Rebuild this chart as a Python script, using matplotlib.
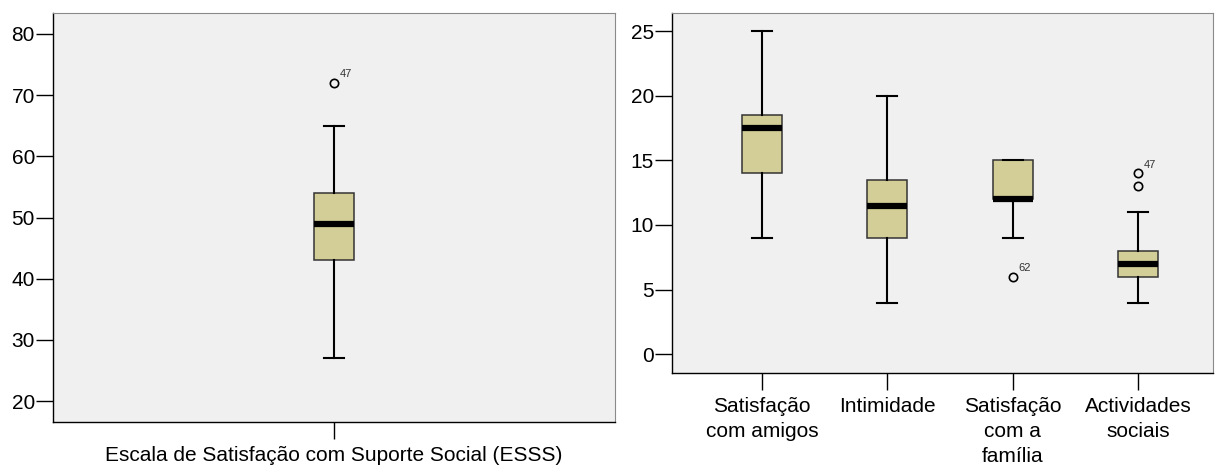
import matplotlib.pyplot as plt

plt.rcParams['font.family'] = ['Liberation Sans', 'DejaVu Sans']

# total score (ESSS)
esss_label = 'Escala de Satisfação com Suporte Social (ESSS)'
esss_whislo, esss_q1, esss_med, esss_q3, esss_whishi = 27, 43, 49, 54, 65
esss_fliers = [72]
esss_flier_ids = ['47']

# subscales
sub_labels = ['Satisfação\ncom amigos', 'Intimidade', 'Satisfação\ncom a\nfamília', 'Actividades\nsociais']
sub_whislo = [9, 4, 9, 4]
sub_q1 = [14, 9, 12, 6]
sub_med = [17.5, 11.5, 12, 7]
sub_q3 = [18.5, 13.5, 15, 8]
sub_whishi = [25, 20, 15, 11]
sub_fliers = [[], [], [6], [13, 14]]
sub_flier_ids = [[], [], ['62'], ['', '47']]

BG = '#f0f0f0'
BOX = '#d3ce98'

boxprops = dict(facecolor=BOX, edgecolor='#333333', linewidth=1.1)
medianprops = dict(color='black', linewidth=4.5, solid_capstyle='butt')
whiskerprops = dict(color='black', linewidth=1.5)
capprops = dict(color='black', linewidth=1.5)
flierprops = dict(marker='o', markerfacecolor='none', markeredgecolor='black',
                  markersize=6, markeredgewidth=1.2, linestyle='none')


def style_axes(ax):
    ax.set_facecolor(BG)
    for s in ('top', 'right'):
        ax.spines[s].set_color('#8a8a8a')
        ax.spines[s].set_linewidth(0.8)
    for s in ('left', 'bottom'):
        ax.spines[s].set_color('black')
        ax.spines[s].set_linewidth(1.0)
    ax.tick_params(axis='both', direction='out', length=12, width=1.0,
                   labelsize=15, colors='black', top=False, right=False)
    ax.tick_params(axis='y', pad=1)
    ax.tick_params(axis='x', pad=5)


fig = plt.figure(figsize=(12.19, 4.71), dpi=100)
ax1 = fig.add_axes([53 / 1219, 1 - 422 / 471, 562 / 1219, 409 / 471])
ax2 = fig.add_axes([672 / 1219, 1 - 373 / 471, 541 / 1219, 360 / 471])

# left panel
stats1 = [dict(whislo=esss_whislo, q1=esss_q1, med=esss_med, q3=esss_q3,
               whishi=esss_whishi, fliers=esss_fliers)]
ax1.bxp(stats1, positions=[1], widths=0.072, patch_artist=True,
        boxprops=boxprops, medianprops=medianprops, whiskerprops=whiskerprops,
        capprops=capprops, flierprops=flierprops, manage_ticks=False)
for v, lab in zip(esss_fliers, esss_flier_ids):
    ax1.annotate(lab, (1, v), xytext=(4, 4), textcoords='offset points',
                 fontsize=8, color='#333333')
ax1.set_xlim(0.5, 1.5)
ax1.set_ylim(16.6, 83.4)
ax1.set_yticks([20, 30, 40, 50, 60, 70, 80])
ax1.set_xticks([1])
ax1.set_xticklabels([esss_label])
style_axes(ax1)

# right panel
pos = list(range(1, len(sub_labels) + 1))
stats2 = [dict(whislo=a, q1=b, med=c, q3=d, whishi=e, fliers=f)
          for a, b, c, d, e, f in zip(sub_whislo, sub_q1, sub_med, sub_q3, sub_whishi, sub_fliers)]
ax2.bxp(stats2, positions=pos, widths=0.32, patch_artist=True,
        boxprops=boxprops, medianprops=medianprops, whiskerprops=whiskerprops,
        capprops=capprops, flierprops=flierprops, manage_ticks=False)
for p, vals, ids in zip(pos, sub_fliers, sub_flier_ids):
    for v, lab in zip(vals, ids):
        if lab:
            ax2.annotate(lab, (p, v), xytext=(4, 4), textcoords='offset points',
                         fontsize=8, color='#333333')
ax2.set_xlim(0.28, 4.6)
ax2.set_ylim(-1.45, 26.4)
ax2.set_yticks([0, 5, 10, 15, 20, 25])
ax2.set_xticks(pos)
ax2.set_xticklabels(sub_labels, linespacing=1.4)
style_axes(ax2)

fig.savefig('out.png', dpi=100, facecolor='white')
